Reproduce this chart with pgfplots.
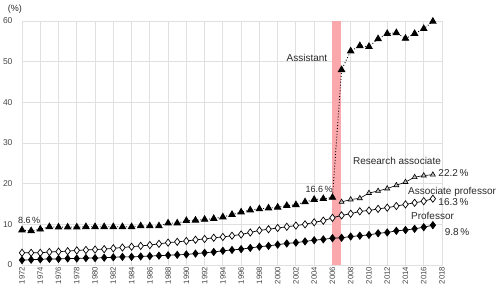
\documentclass[border=0pt]{standalone}
\usepackage{fontspec}
\setmainfont{Liberation Sans}
\usepackage{pgfplots}
\pgfplotsset{compat=1.18}
\usepackage{pgfplotstable}
\definecolor{gridc}{RGB}{224,224,224}
\definecolor{bandc}{RGB}{250,168,172}
\definecolor{txt}{RGB}{40,40,40}
\definecolor{tick}{RGB}{70,70,70}

\pgfplotstableread{
year val
1972 8.6
1973 8.4
1974 8.8
1975 9.4
1976 9.3
1977 9.3
1978 9.3
1979 9.4
1980 9.4
1981 9.4
1982 9.4
1983 9.4
1984 9.4
1985 9.6
1986 9.6
1987 9.6
1988 10.3
1989 10.3
1990 10.9
1991 11.0
1992 11.2
1993 11.4
1994 11.8
1995 12.4
1996 13.0
1997 13.5
1998 13.8
1999 14.0
2000 14.2
2001 14.6
2002 14.8
2003 15.5
2004 16.1
2005 16.3
2006 16.6
2007 48.0
2008 52.6
2009 53.9
2010 53.7
2011 55.6
2012 56.9
2013 57.1
2014 55.7
2015 56.9
2016 58.1
2017 59.9
}\assistant

\pgfplotstableread{
year val
2007 15.5
2008 16.1
2009 16.4
2010 17.7
2011 18.2
2012 18.8
2013 19.6
2014 20.4
2015 21.6
2016 22.0
2017 22.2
}\research

\pgfplotstableread{
year val
1972 3.0
1973 3.0
1974 3.0
1975 3.2
1976 3.3
1977 3.4
1978 3.6
1979 3.7
1980 3.8
1981 3.9
1982 4.1
1983 4.3
1984 4.5
1985 4.7
1986 4.9
1987 5.2
1988 5.5
1989 5.7
1990 5.9
1991 6.2
1992 6.4
1993 6.7
1994 6.9
1995 7.2
1996 7.5
1997 8.0
1998 8.5
1999 8.8
2000 9.1
2001 9.4
2002 9.7
2003 10.0
2004 10.5
2005 10.9
2006 11.6
2007 12.2
2008 12.6
2009 13.2
2010 13.4
2011 13.8
2012 14.1
2013 14.5
2014 14.9
2015 15.3
2016 15.7
2017 16.3
}\associate

\pgfplotstableread{
year val
1972 1.2
1973 1.3
1974 1.4
1975 1.5
1976 1.5
1977 1.6
1978 1.6
1979 1.7
1980 1.7
1981 1.8
1982 1.9
1983 2.0
1984 2.0
1985 2.1
1986 2.2
1987 2.3
1988 2.4
1989 2.5
1990 2.6
1991 2.8
1992 3.0
1993 3.2
1994 3.5
1995 3.7
1996 3.9
1997 4.2
1998 4.5
1999 4.7
2000 5.0
2001 5.3
2002 5.5
2003 5.8
2004 6.1
2005 6.3
2006 6.6
2007 6.7
2008 7.0
2009 7.2
2010 7.4
2011 7.8
2012 8.0
2013 8.4
2014 8.6
2015 8.9
2016 9.3
2017 9.8
}\professor

\begin{document}
\begin{tikzpicture}
\path[use as bounding box] (0,0) rectangle (500pt,290pt);
\begin{axis}[
  at={(22pt,25pt)}, anchor=south west,
  scale only axis, width=420pt, height=244pt,
  xmin=1972, xmax=2018, ymin=0, ymax=60,
  xtick={1972,1974,...,2018}, ytick={0,10,...,60},
  grid=major, major grid style={gridc, line width=0.9pt},
  axis line style={gridc, line width=0.9pt},
  major tick length=0pt,
  clip=false,
  /pgf/number format/1000 sep={},
  /pgf/number format/assume math mode=true,
  xticklabel style={rotate=90, anchor=east, font=\fontsize{7.8}{8}\selectfont, text=tick, inner sep=1.5pt},
  yticklabel style={font=\fontsize{8.5}{9}\selectfont, text=tick, xshift=-6pt},
]
\fill[bandc] (2006,0) rectangle (2006.9,60);
\addplot[black, dotted, line width=0.9pt, mark=triangle*, mark size=3.6pt, mark options={solid, fill=black}] table[x=year,y=val] {\assistant};
\addplot[black, line width=0.6pt, mark=triangle*, mark size=2.9pt, mark options={solid, fill=gray!50, draw=black}] table[x=year,y=val] {\research};
\addplot[black, line width=0.7pt, mark=diamond*, mark size=3.6pt, mark options={solid, fill=white, draw=black, line width=0.7pt}] table[x=year,y=val] {\associate};
\addplot[black, line width=0.7pt, mark=diamond*, mark size=3.6pt, mark options={solid, fill=black}] table[x=year,y=val] {\professor};

\node[txt, font=\fontsize{9}{10}\selectfont] at (1971.23,63.0) {(\%)};
\node[txt, font=\fontsize{9}{10}\selectfont] at (1972.77,11.07) {8.6\,\%};
\node[txt, font=\fontsize{9}{10}\selectfont] at (2004.53,18.69) {16.6\,\%};
\node[txt, font=\fontsize{10}{11}\selectfont] at (2003.21,50.9) {Assistant};
\node[txt, font=\fontsize{10}{11}\selectfont] at (2013.07,25.57) {Research associate};
\node[txt, font=\fontsize{10}{11}\selectfont] at (2019.26,22.5) {22.2\,\%};
\node[txt, font=\fontsize{10}{11}\selectfont] at (2019.1,17.95) {Associate professor};
\node[txt, font=\fontsize{10}{11}\selectfont] at (2019.26,15.37) {16.3\,\%};
\node[txt, font=\fontsize{10}{11}\selectfont] at (2016.96,12.05) {Professor};
\node[txt, font=\fontsize{10}{11}\selectfont] at (2019.64,8.11) {9.8\,\%};
\end{axis}
\end{tikzpicture}
\end{document}
